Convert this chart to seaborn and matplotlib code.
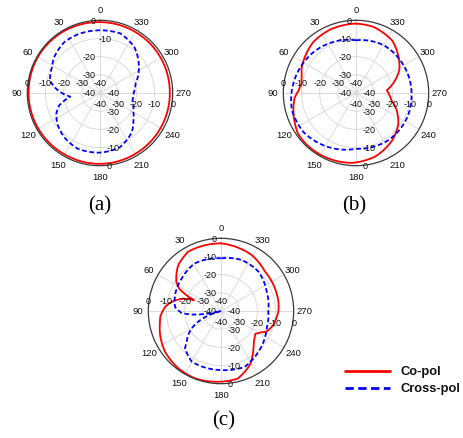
import numpy as np
import pandas as pd
import matplotlib
matplotlib.use("Agg")
import matplotlib.pyplot as plt
from matplotlib.lines import Line2D
import seaborn as sns

sns.set_style("white")
plt.rcParams["font.family"] = ["Liberation Sans", "DejaVu Sans"]

# ---------------- data ----------------
angle_ticks = [0, 30, 60, 90, 120, 150, 180, 210, 240, 270, 300, 330]
ring_levels = [-40, -30, -20, -10, 0]
ring_labels = ["-40", "-30", "-20", "-10", "0"]
panel_labels = ["(a)", "(b)", "(c)"]
series_names = ["Co-pol", "Cross-pol"]

a_co_theta = [0, 30, 60, 90, 120, 150, 180, 210, 240, 270, 300, 330]
a_co_db = [-1.0, -0.6, -0.5, -0.7, -0.8, -1.0, -1.0, -1.3, -1.5, -1.6, -1.4, -1.2]
a_x_theta = [0, 20, 35, 52, 62, 69, 76, 84, 90, 97, 102, 107, 115, 126, 141, 158,
             180, 200, 219, 230, 240, 257, 270, 285, 304, 323, 341]
a_x_db = [-5.5, -5.5, -5.8, -8, -10, -10.8, -11.6, -15.5, -19, -23.5, -20, -16.5,
          -13.5, -11, -8.7, -7, -7.2, -8.2, -12.2, -16, -18.8, -21.7, -21.5, -19.7,
          -14.2, -8.5, -5.4]

b_co_theta = [0, 22, 40, 55, 65, 72, 80, 87, 95, 110, 125, 135, 150, 165, 177, 197,
              218, 234, 247, 258, 266, 275, 282, 290, 298, 310, 325, 345]
b_co_db = [-1.8, -2.3, -3.4, -5.6, -7.0, -8.6, -9.6, -8.5, -6.0, -3.5, -1.0, -0.7,
           -0.8, -1.1, -1.5, -3.5, -7.3, -11.2, -15.7, -20, -21.5, -23, -20, -16.5,
           -13, -9.4, -5, -2.4]
b_x_theta = [0, 30, 47, 65, 90, 105, 127, 153, 180, 215, 245, 270, 300, 330]
b_x_db = [-11, -8.8, -7.5, -6.3, -4.5, -3.5, -4, -6.6, -9.3, -8.5, -8.8, -9.4, -9.7, -9.6]

c_co_theta = [0, 29, 43, 50, 57, 62, 66, 68, 72, 77, 82, 86, 95, 100, 112, 126, 143,
              159, 180, 194, 208, 221, 227, 236, 241, 246, 255, 270, 279, 293, 312, 331]
c_co_db = [-2.8, -2.7, -5.5, -8, -10.7, -14, -20, -24, -18, -14, -11, -9.1, -6.5,
           -5.9, -3.9, -1.9, -0.7, -0.3, -1.1, -1.7, -6.3, -12.8, -15.3, -17.4, -15.6,
           -12.4, -10.2, -8.4, -8, -7.8, -7.5, -4.9]
c_x_theta = [0, 29, 50, 71, 85, 93, 97, 101, 104, 110, 116, 121, 126, 132, 136, 150,
             180, 203, 223, 249, 270, 293, 316, 338]
c_x_db = [-11, -10.1, -11.9, -13.2, -14.6, -18.3, -24, -32, -40, -32, -25, -21, -17.7,
          -14.6, -11.5, -7.8, -7.5, -6.6, -9.6, -13.1, -14, -12.7, -10.1, -9.7]

co_color = "#ff0000"
x_color = "#0000ff"

# ---------------- figure ----------------
W, H = 464, 439
fig = plt.figure(figsize=(W / 100, H / 100), dpi=100)
R = 72.7  # radius in px


def make_ax(cx, cy, top_override=None):
    rect = [(cx - R) / W, 1 - (cy + R) / H, 2 * R / W, 2 * R / H]
    ax = fig.add_axes(rect, projection="polar")
    ax.set_theta_zero_location("N")
    ax.set_theta_direction(1)
    ax.set_ylim(-40, 0)
    ax.set_xticks(np.deg2rad(angle_ticks))
    ax.set_xticklabels([])
    ax.set_yticks([-30, -20, -10])
    ax.set_yticklabels([])
    ax.grid(True, color="#d6d6d6", lw=0.6)
    ax.spines["polar"].set_color("#3a3a3a")
    ax.spines["polar"].set_linewidth(0.9)
    ax.set_facecolor("white")
    for a in angle_ticks:
        ax.text(np.deg2rad(a), 5.7, str(a), ha="center", va="center",
                fontsize=6.8, color="#111111", clip_on=False)
    fs = 6.5
    for lev, lab in zip(ring_levels, ring_labels):
        kw = dict(textcoords="offset pixels", fontsize=fs, color="#111111",
                  va="center", annotation_clip=False)
        if top_override and lab in top_override:
            ax.annotate(lab, (0, lev), xytext=top_override[lab], ha="center", **kw)
        else:
            ax.annotate(lab, (0, lev), xytext=(-4.5, 0), ha="right", **kw)
        ax.annotate(lab, (np.pi / 2, lev), xytext=(0, 10), ha="center", **kw)
        ax.annotate(lab, (3 * np.pi / 2, lev), xytext=(0, -11), ha="center", **kw)
        ax.annotate(lab, (np.pi, lev), xytext=(7, 0), ha="left", **kw)
    return ax


def draw(ax, theta, db, color, dashed):
    th = np.deg2rad(list(theta) + [theta[0] + 360])
    r = list(db) + [db[0]]
    df = pd.DataFrame({"theta": th, "r": r})
    ls = (0, (2.6, 1.5)) if dashed else "-"
    n_before = len(ax.lines)
    sns.lineplot(data=df, x="theta", y="r", ax=ax, color=color, lw=1.3,
                 linestyle=ls, sort=False, estimator=None)
    # draw segments between readings as polar arcs, not chords
    for ln in ax.lines[n_before:]:
        ln.get_path()._interpolation_steps = 40
    ax.set_xlabel("")
    ax.set_ylabel("")
    ax.set_ylim(-40, 0)


ax_a = make_ax(100, 94, top_override={"-10": (5, 0)})
draw(ax_a, a_co_theta, a_co_db, co_color, False)
draw(ax_a, a_x_theta, a_x_db, x_color, True)

ax_b = make_ax(356, 94)
draw(ax_b, b_co_theta, b_co_db, co_color, False)
draw(ax_b, b_x_theta, b_x_db, x_color, True)

ax_c = make_ax(221, 312)
draw(ax_c, c_co_theta, c_co_db, co_color, False)
draw(ax_c, c_x_theta, c_x_db, x_color, True)

for (px, py), lab in zip([(100, 206), (354, 206), (224, 421)], panel_labels):
    fig.text(px / W, 1 - py / H, lab, ha="center", va="center", fontsize=15,
             family=["Liberation Serif", "DejaVu Serif"], color="black")

for (y, color, dashed), name in zip([(372, co_color, False), (389, x_color, True)], series_names):
    fig.add_artist(Line2D([345 / W, 390 / W], [1 - y / H, 1 - y / H], color=color,
                          lw=2.0, linestyle=(0, (3, 1.6)) if dashed else "-"))
    fig.text(401 / W, 1 - y / H, name, ha="left", va="center", fontsize=9.3,
             fontweight="bold", color="#111111")

fig.savefig("out.png", dpi=100)
